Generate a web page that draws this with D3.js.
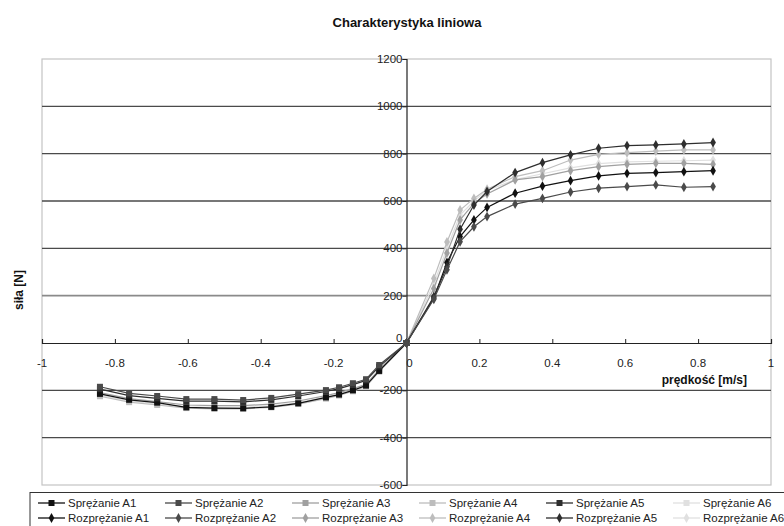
<!DOCTYPE html>
<html><head><meta charset="utf-8">
<script src="https://cdn.jsdelivr.net/npm/d3@7/dist/d3.min.js"></script>
<style>body{margin:0;background:#fff}svg{display:block}text{font-family:"Liberation Sans",Arial,sans-serif}</style>
</head><body><svg id="c" width="784" height="526"></svg>
<script>
const title = "Charakterystyka liniowa";
const xTitle = "prędkość [m/s]";
const yTitle = "siła [N]";
const xTicks = [-1,-0.8,-0.6,-0.4,-0.2,0,0.2,0.4,0.6,0.8,1];
const yTicks = [-600,-400,-200,0,200,400,600,800,1000,1200];

const xNeg = [-0.841,-0.761,-0.684,-0.604,-0.527,-0.448,-0.371,-0.297,-0.221,-0.185,-0.147,-0.111,-0.075,0];
const xPos = [0,0.075,0.111,0.147,0.185,0.221,0.298,0.373,0.45,0.527,0.605,0.684,0.761,0.841];

const sprA1 = [-215,-240,-252,-272,-275,-276,-270,-255,-230,-218,-200,-180,-118,0];
const sprA2 = [-185,-213,-224,-237,-237,-241,-232,-216,-199,-187,-170,-153,-93,0];
const sprA3 = [-210,-235,-248,-262,-265,-265,-258,-245,-222,-210,-193,-175,-112,0];
const sprA4 = [-225,-250,-262,-275,-278,-278,-272,-258,-235,-222,-204,-184,-121,0];
const sprA5 = [-195,-222,-234,-246,-246,-249,-240,-224,-205,-193,-176,-158,-100,0];
const sprA6 = [-220,-245,-258,-270,-272,-272,-266,-252,-230,-216,-198,-180,-116,0];

const rozA1 = [0,190,340,450,520,573,633,663,686,706,717,720,724,728];
const rozA2 = [0,185,309,428,491,534,587,611,638,654,661,668,658,661];
const rozA3 = [0,230,380,520,590,630,689,703,728,745,755,759,759,755];
const rozA4 = [0,273,427,562,611,650,703,728,773,797,804,811,816,816];
const rozA5 = [0,196,322,481,583,640,720,762,795,823,834,837,841,847];
const rozA6 = [0,250,400,540,600,645,690,715,740,758,765,768,770,773];

const names = ["A1","A2","A3","A4","A5","A6"];
const colors = ["#111111","#4a4a4a","#a0a0a0","#bdbdbd","#2e2e2e","#e0e0e0"];
const sprData = [sprA1,sprA2,sprA3,sprA4,sprA5,sprA6];
const rozData = [rozA1,rozA2,rozA3,rozA4,rozA5,rozA6];

const svg = d3.select("#c");
const x = d3.scaleLinear().domain([-1,1]).range([42,771]);
const y = d3.scaleLinear().domain([-600,1200]).range([485,59]);

svg.append("text").attr("x",407).attr("y",27).attr("text-anchor","middle")
  .attr("font-size",13).attr("font-weight","bold").attr("fill","#111").text(title);

// plot border
svg.append("rect").attr("x",x(-1)).attr("y",y(1200)).attr("width",x(1)-x(-1)).attr("height",y(-600)-y(1200))
  .attr("fill","#fff").attr("stroke","#c4c4c4").attr("stroke-width",1.2);

// gridlines
svg.append("g").selectAll("line").data(yTicks.filter(v=>v>-600 && v<1200 && v!==0)).join("line")
  .attr("x1",x(-1)).attr("x2",x(1)).attr("y1",d=>y(d)).attr("y2",d=>y(d))
  .attr("stroke",d=>d===200?"#8a8a8a":"#4a4a4a").attr("stroke-width",d=>d===200?1.8:1.3);

// x axis at y=0
const xAxis = d3.axisTop(x).tickValues(xTicks).tickSize(4).tickFormat(()=> "");
const gx = svg.append("g").attr("transform",`translate(0,${y(0)})`).call(xAxis);
gx.select(".domain").attr("stroke","#222").attr("stroke-width",1.2);
gx.selectAll(".tick line").attr("stroke","#222");
svg.append("g").selectAll("text").data(xTicks).join("text")
  .attr("x",d=>x(d)+(d===0?3:0)).attr("y",y(0)+24).attr("text-anchor","middle")
  .attr("font-size",11.5).attr("fill","#222").text(d=>String(d));

// y axis at x=0
const yAxis = d3.axisLeft(y).tickValues(yTicks).tickSize(4).tickFormat(()=> "");
const gy = svg.append("g").attr("transform",`translate(${x(0)},0)`).call(yAxis);
gy.select(".domain").attr("stroke","#222").attr("stroke-width",1.2);
gy.selectAll(".tick line").attr("stroke","#222");
svg.append("g").selectAll("text").data(yTicks).join("text")
  .attr("x",x(0)-4).attr("y",d=>y(d)+(d===0?-1:4)).attr("text-anchor","end")
  .attr("font-size",11.5).attr("fill","#222").text(d=>d);

svg.append("text").attr("x",747).attr("y",384).attr("text-anchor","end")
  .attr("font-size",12).attr("font-weight","bold").attr("fill","#111").text(xTitle);
svg.append("text").attr("transform","translate(23,290) rotate(-90)").attr("text-anchor","middle")
  .attr("font-size",12).attr("font-weight","bold").attr("fill","#111").text(yTitle);

const line = d3.line().x(d=>x(d[0])).y(d=>y(d[1]));
const diamond = d3.symbol().type(d3.symbolDiamond).size(28);

function drawSeries(xs, ys, color, type){
  const pts = xs.map((v,i)=>[v,ys[i]]);
  const g = svg.append("g");
  g.append("path").datum(pts).attr("d",line).attr("fill","none").attr("stroke",color).attr("stroke-width",1.2);
  if(type==="sq"){
    g.selectAll("rect").data(pts).join("rect")
      .attr("x",d=>x(d[0])-3).attr("y",d=>y(d[1])-3).attr("width",6).attr("height",6).attr("fill",color);
  } else {
    g.selectAll("path.m").data(pts).join("path").attr("class","m")
      .attr("transform",d=>`translate(${x(d[0])},${y(d[1])})`).attr("d",diamond).attr("fill",color);
  }
}
[5,3,2,0,4,1].forEach(i=>drawSeries(xNeg,sprData[i],colors[i],"sq"));
[5,3,2,0,4,1].forEach(i=>drawSeries(xPos,rozData[i],colors[i],"dm"));

// legend
const lg = svg.append("g");
lg.append("rect").attr("x",30).attr("y",492.5).attr("width",770).attr("height",40)
  .attr("fill","#fff").attr("stroke","#333").attr("stroke-width",1);
names.forEach((n,i)=>{
  const lx = 38 + i*127;
  [["Sprężanie ","sq",503],["Rozprężanie ","dm",518]].forEach(([lab,type,ly])=>{
    lg.append("line").attr("x1",lx).attr("x2",lx+27).attr("y1",ly).attr("y2",ly).attr("stroke",colors[i]).attr("stroke-width",1.3);
    if(type==="sq") lg.append("rect").attr("x",lx+10.5).attr("y",ly-3).attr("width",6).attr("height",6).attr("fill",colors[i]);
    else lg.append("path").attr("transform",`translate(${lx+13.5},${ly})`).attr("d",diamond).attr("fill",colors[i]);
    lg.append("text").attr("x",lx+30).attr("y",ly+4).attr("font-size",11.5).attr("fill","#222").text(lab+n);
  });
});
</script></body></html>
